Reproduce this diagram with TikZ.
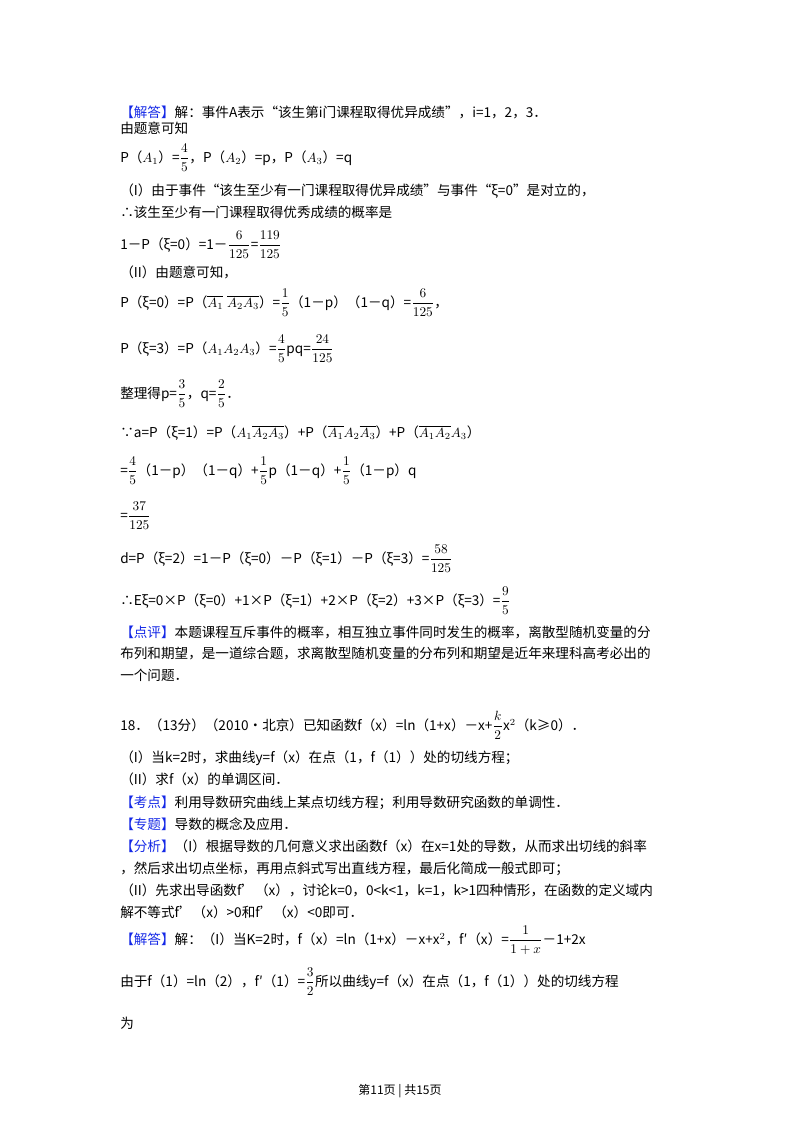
\documentclass[tikz,border=0pt]{standalone}
\usepackage{amsmath}
\usepackage{fontspec}
\setmainfont{Noto Sans CJK SC}
\definecolor{lab}{RGB}{20,40,230}
\newcommand{\lb}[1]{\textcolor{lab}{【#1】}}
\begin{document}
\begin{tikzpicture}[x=0.75pt,y=-0.75pt,t/.style={anchor=base west,inner sep=0pt,font=\fontsize{10.2}{12}\selectfont}]
\useasboundingbox (0,0) rectangle (800,1132);
\node[t] (l1) at (120,117) {\lb{解答}解：事件A表示“该生第i门课程取得优异成绩”，i=1，2，3．};
\node[t] (l2) at (120,133) {由题意可知};
\node[t] (l3) at (120,162) {P（$A_1$）=$\dfrac{4}{5}$，P（$A_2$）=p，P（$A_3$）=q};
\node[t] (l4) at (120,195) {（I）由于事件“该生至少有一门课程取得优异成绩”与事件“ξ=0”是对立的，};
\node[t] (l5) at (120,217) {∴该生至少有一门课程取得优秀成绩的概率是};
\node[t] (l6) at (120,249) {1－P（ξ=0）=1－$\dfrac{6}{125}$=$\dfrac{119}{125}$};
\node[t] (l7) at (120,277) {（II）由题意可知，};
\node[t] (l8) at (120,307) {P（ξ=0）=P（$\overline{A_1}\;\overline{A_2A_3}$）=$\dfrac{1}{5}$（1－p）（1－q）=$\dfrac{6}{125}$，};
\node[t] (l9) at (120,353) {P（ξ=3）=P（$A_1A_2A_3$）=$\dfrac{4}{5}$pq=$\dfrac{24}{125}$};
\node[t] (l10) at (120,398) {整理得p=$\dfrac{3}{5}$，q=$\dfrac{2}{5}$．};
\node[t] (l11) at (120,437) {∵a=P（ξ=1）=P（$A_1\overline{A_2A_3}$）+P（$\overline{A_1}A_2\overline{A_3}$）+P（$\overline{A_1A_2}A_3$）};
\node[t] (l12) at (120,475) {=$\dfrac{4}{5}$（1－p）（1－q）+$\dfrac{1}{5}$p（1－q）+$\dfrac{1}{5}$（1－p）q};
\node[t] (l13) at (120,520) {=$\dfrac{37}{125}$};
\node[t] (l14) at (120,563) {d=P（ξ=2）=1－P（ξ=0）－P（ξ=1）－P（ξ=3）=$\dfrac{58}{125}$};
\node[t] (l15) at (120,605) {∴Eξ=0×P（ξ=0）+1×P（ξ=1）+2×P（ξ=2）+3×P（ξ=3）=$\dfrac{9}{5}$};
\node[t] (l16) at (120,637) {\lb{点评}本题课程互斥事件的概率，相互独立事件同时发生的概率，离散型随机变量的分};
\node[t] (l17) at (120,658) {布列和期望，是一道综合题，求离散型随机变量的分布列和期望是近年来理科高考必出的};
\node[t] (l18) at (120,680) {一个问题．};
\node[t] (l19) at (120,730) {18．（13分）（2010•北京）已知函数f（x）=ln（1+x）－x+$\dfrac{k}{2}$x$^2$（k≥0）．};
\node[t] (l20) at (120,762) {（I）当k=2时，求曲线y=f（x）在点（1，f（1））处的切线方程；};
\node[t] (l21) at (120,784) {（II）求f（x）的单调区间．};
\node[t] (l22) at (120,807) {\lb{考点}利用导数研究曲线上某点切线方程；利用导数研究函数的单调性．};
\node[t] (l23) at (120,829) {\lb{专题}导数的概念及应用．};
\node[t] (l24) at (120,851) {\lb{分析}（I）根据导数的几何意义求出函数f（x）在x=1处的导数，从而求出切线的斜率};
\node[t] (l25) at (120,873) {，然后求出切点坐标，再用点斜式写出直线方程，最后化简成一般式即可；};
\node[t] (l26) at (120,895) {（II）先求出导函数f'（x），讨论k=0，0<k<1，k=1，k>1四种情形，在函数的定义域内};
\node[t] (l27) at (120,917) {解不等式f'（x）>0和f'（x）<0即可．};
\node[t] (l28) at (120,944) {\lb{解答}解：（I）当K=2时，f（x）=ln（1+x）－x+x$^2$，f′（x）=$\dfrac{1}{1+x}$－1+2x};
\node[t] (l29) at (120,986) {由于f（1）=ln（2），f′（1）=$\dfrac{3}{2}$所以曲线y=f（x）在点（1，f（1））处的切线方程};
\node[t] (l30) at (120,1028) {为};
\node[anchor=base,inner sep=0pt,font=\fontsize{9}{11}\selectfont] (ft) at (400,1094) {第11页 | 共15页};
\end{tikzpicture}
\end{document}
